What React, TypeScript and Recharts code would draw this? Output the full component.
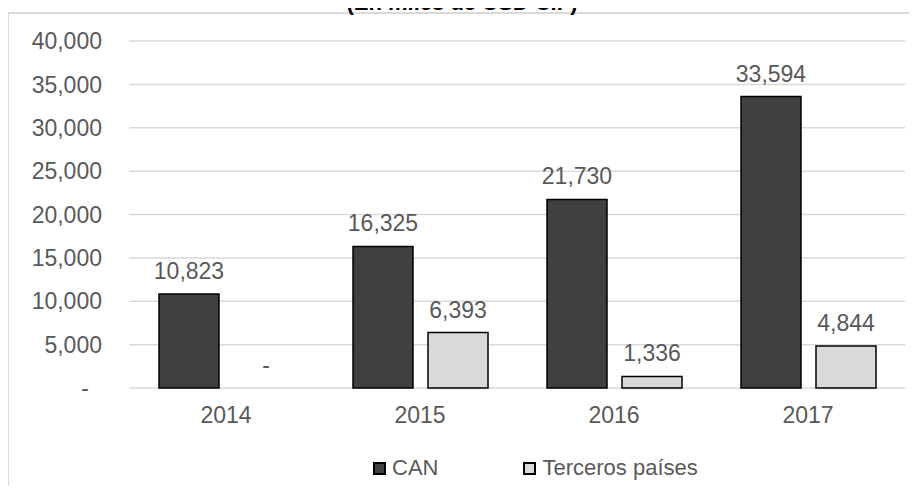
import React from "react";
import {
  Bar,
  BarChart,
  CartesianGrid,
  Cell,
  LabelList,
  Legend,
  XAxis,
  YAxis,
} from "recharts";

const years = ["2014", "2015", "2016", "2017"];
const canValues = [10823, 16325, 21730, 33594];
const tercerosValues = [0, 6393, 1336, 4844];
const yTicks = [0, 5000, 10000, 15000, 20000, 25000, 30000, 35000, 40000];

const data = years.map((year, i) => ({
  year,
  can: canValues[i],
  terceros: tercerosValues[i],
}));

const font = "Arial, 'Liberation Sans', sans-serif";
const textColor = "#595959";

const fmt = (v: number) => (v === 0 ? "-" : v.toLocaleString("en-US"));

function YTick({ x, y, payload }: any) {
  const v = payload.value as number;
  return (
    <text
      x={v === 0 ? x - 13 : x}
      y={y}
      dy="0.355em"
      textAnchor="end"
      fill={textColor}
      fontSize={23}
      fontFamily={font}
    >
      {fmt(v)}
    </text>
  );
}

// value label above each bar ("-" for zero, like the accounting format)
function TopLabel(props: any) {
  const { x, y, width, height, value } = props;
  const v = Number(value);
  const top = v === 0 ? Number(y) + Number(height) : Number(y);
  return (
    <text
      x={Number(x) + Number(width) / 2 + (v === 0 ? 2 : 0)}
      y={top - 15}
      textAnchor="middle"
      fill={textColor}
      fontSize={23}
      fontFamily={font}
    >
      {fmt(v)}
    </text>
  );
}

function LegendContent() {
  const swatch = (bg: string) => ({
    width: 13,
    height: 13,
    boxSizing: "border-box" as const,
    border: "2px solid #000",
    background: bg,
    display: "inline-block",
  });
  return (
    <div
      style={{
        height: 36,
        display: "flex",
        alignItems: "center",
        paddingLeft: 373,
        fontFamily: font,
        fontSize: 22,
        color: textColor,
      }}
    >
      <span style={swatch("#404040")} />
      <span style={{ marginLeft: 6 }}>CAN</span>
      <span style={{ ...swatch("#d9d9d9"), marginLeft: 85 }} />
      <span style={{ marginLeft: 6 }}>Terceros países</span>
    </div>
  );
}

export default function App() {
  return (
    <div
      style={{
        position: "relative",
        margin: -8,
        width: 917,
        height: 494,
        overflow: "hidden",
        background: "#fff",
      }}
    >
      <div
        style={{
          position: "absolute",
          left: 7,
          top: 12,
          width: 940,
          height: 520,
          border: "2px solid #d9d9d9",
        }}
      />
      <div
        style={{
          position: "absolute",
          left: 0,
          top: -8,
          width: 924,
          textAlign: "center",
          fontFamily: font,
          fontWeight: "bold",
          fontSize: 22,
          lineHeight: "22px",
          color: "#000",
        }}
      >
        (En miles de USD CIF)
      </div>
      <div style={{ position: "absolute", left: 0, top: 0 }}>
        <BarChart
          width={917}
          height={494}
          data={data}
          margin={{ top: 41, right: 12, left: 0, bottom: 8 }}
          barSize={60}
          barGap={15}
        >
          <CartesianGrid
            vertical={false}
            stroke="#d9d9d9"
            strokeWidth={1.5}
          />
          <XAxis
            dataKey="year"
            height={62}
            tickLine={false}
            axisLine={false}
            tickSize={0}
            tickMargin={19}
            tick={{ fill: textColor, fontSize: 23, fontFamily: font }}
          />
          <YAxis
            width={129}
            domain={[0, 40000]}
            ticks={yTicks}
            tickLine={false}
            axisLine={false}
            tickSize={0}
            tickMargin={27}
            tick={<YTick />}
          />
          <Legend
            verticalAlign="bottom"
            content={<LegendContent />}
            wrapperStyle={{ left: 0, width: 917 }}
          />
          <Bar
            dataKey="can"
            name="CAN"
            fill="#404040"
            stroke="#000"
            strokeWidth={1.5}
            isAnimationActive={false}
          >
            <LabelList dataKey="can" content={<TopLabel />} />
          </Bar>
          <Bar
            dataKey="terceros"
            name="Terceros países"
            fill="#d9d9d9"
            stroke="#000"
            strokeWidth={1.5}
            minPointSize={(v: any) => (Number(v) === 0 ? 1 : 0)}
            isAnimationActive={false}
          >
            {tercerosValues.map((v, i) => (
              <Cell
                key={i}
                fill={v === 0 ? "none" : "#d9d9d9"}
                stroke={v === 0 ? "none" : "#000"}
              />
            ))}
            <LabelList dataKey="terceros" content={<TopLabel />} />
          </Bar>
        </BarChart>
      </div>
    </div>
  );
}
